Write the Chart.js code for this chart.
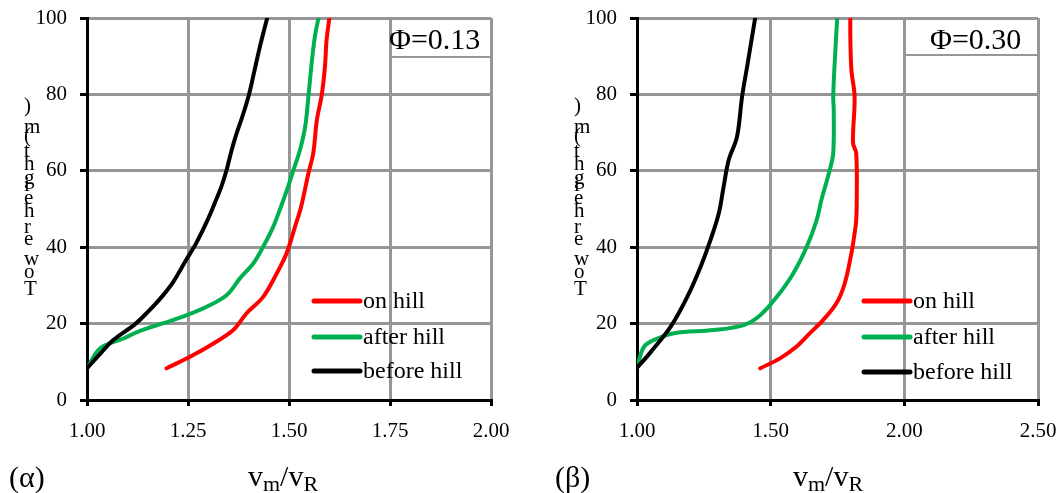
<!DOCTYPE html>
<html>
<head>
<meta charset="utf-8">
<script src="https://cdn.jsdelivr.net/npm/chart.js@4.4.0/dist/chart.umd.min.js"></script>
<style>
  html, body { margin:0; padding:0; background:#fff; }
  body { width:1060px; height:493px; position:relative; overflow:hidden; }
  .panel { position:absolute; top:0; height:493px; }
  #p1 { left:0;     width:530px; }
  #p2 { left:550px; width:510px; }
</style>
</head>
<body>
<div class="panel" id="p1"><canvas id="c1"></canvas></div>
<div class="panel" id="p2"><canvas id="c2"></canvas></div>
<script>
/* ---- wind profiles: height (m) vs vm/vR ---- */

const seriesNames  = ['on hill', 'after hill', 'before hill'];
const seriesColors = ['#ff0000', '#00b050', '#000000'];

const yTicks  = [0, 20, 40, 60, 80, 100];
const xTicksA = [1.00, 1.25, 1.50, 1.75, 2.00];
const xTicksB = [1.00, 1.50, 2.00, 2.50];

// Φ = 0.13
const hOnA     = [8.3, 11.3, 14.8, 18.3, 22.7, 27, 33.2, 38.4, 45.4, 50.6, 59.3, 64.6, 73.3, 79.8, 87.3, 94.2, 100];
const vOnA     = [1.197, 1.255, 1.313, 1.362, 1.395, 1.436, 1.470, 1.494, 1.515, 1.530, 1.548, 1.560, 1.569, 1.581, 1.589, 1.593, 1.600];
const hAfterA  = [8.3, 13.5, 16.1, 17.9, 20.1, 22.2, 24.4, 27.5, 31.9, 35.8, 40.1, 45.4, 50.6, 55, 60.2, 65.4, 71.5, 79.4, 88.1, 95.1, 100];
const vAfterA  = [1.000, 1.032, 1.090, 1.127, 1.189, 1.247, 1.296, 1.346, 1.379, 1.412, 1.436, 1.461, 1.480, 1.495, 1.511, 1.527, 1.540, 1.548, 1.556, 1.564, 1.573];
const hBeforeA = [8.3, 12, 15.7, 19.6, 23, 27, 31, 36.6, 41, 47, 52, 56, 60, 65, 69, 75, 80, 85.5, 92.5, 100];
const vBeforeA = [1.000, 1.032, 1.065, 1.116, 1.150, 1.185, 1.214, 1.245, 1.270, 1.298, 1.318, 1.333, 1.345, 1.357, 1.368, 1.387, 1.401, 1.413, 1.428, 1.446];

// Φ = 0.30
const hOnB     = [8.3, 10.9, 14, 17.5, 20.9, 25.3, 30.5, 38.4, 43.6, 47.1, 52.4, 64.6, 67.3, 79.4, 86.4, 95.1, 100];
const vOnB     = [1.461, 1.535, 1.597, 1.647, 1.696, 1.746, 1.777, 1.802, 1.814, 1.820, 1.822, 1.820, 1.808, 1.814, 1.802, 1.798, 1.798];
const hAfterB  = [8.4, 14, 16.1, 17.5, 18.3, 19.6, 22.2, 27, 33.2, 40.1, 47.1, 52.4, 60.2, 64.6, 75.9, 79.4, 88.9, 100];
const vAfterB  = [1.000, 1.027, 1.077, 1.139, 1.287, 1.399, 1.461, 1.523, 1.585, 1.635, 1.672, 1.690, 1.721, 1.734, 1.736, 1.734, 1.740, 1.749];
const hBeforeB = [8.4, 12.6, 19.2, 27, 34.9, 41.9, 48.9, 55, 62.8, 68.9, 79.4, 87.3, 100];
const vBeforeB = [1.000, 1.052, 1.126, 1.188, 1.238, 1.275, 1.306, 1.322, 1.343, 1.374, 1.393, 1.412, 1.442];

const serif = '"Liberation Serif", "Times New Roman", serif';

function profile(h, v) { return h.map((y, i) => ({ x: v[i], y })); }

// text, legend and axis titles drawn straight onto the canvas
const panelText = {
  id: 'panelText',
  afterDraw(chart, args, o) {
    const { ctx, chartArea: a, scales: { x } } = chart;
    ctx.save();

    // Φ box
    const bx = x.getPixelForValue(o.boxFrom);
    ctx.strokeStyle = '#969696'; ctx.lineWidth = 2;
    ctx.beginPath(); ctx.moveTo(bx, a.top + o.boxH); ctx.lineTo(a.right, a.top + o.boxH); ctx.stroke();
    ctx.fillStyle = '#000';
    ctx.font = `30px ${serif}`;
    ctx.textAlign = 'left'; ctx.textBaseline = 'alphabetic';
    ctx.fillText(o.phi, a.left + o.phiDx, 49);

    // legend
    ctx.font = `24px ${serif}`;
    ctx.textBaseline = 'middle';
    ctx.lineCap = 'round'; ctx.lineWidth = 5;
    seriesNames.forEach((name, i) => {
      const lx = a.left + 227, ly = o.legendY[i];
      ctx.strokeStyle = seriesColors[i];
      ctx.beginPath(); ctx.moveTo(lx, ly); ctx.lineTo(lx + 46, ly); ctx.stroke();
      ctx.fillText(name, lx + 49, ly + 1);
    });

    // stacked y title
    ctx.font = `21px ${serif}`;
    ctx.textBaseline = 'alphabetic';
    const chars = [...'Tower height (m)'];
    let pos = 0;
    const starts = chars.map(c => { const s = pos; pos += ctx.measureText(c).width; return s; });
    const span = starts[starts.length - 1];
    chars.forEach((c, i) => {
      if (c === ' ') return;
      ctx.fillText(c, 24, 295 - (starts[i] / span) * (295 - 112));
    });

    // x title v_m/v_R
    const parts = [['v', 0], ['m', 1], ['/v', 0], ['R', 1]];
    const fontOf = sub => sub ? `22px ${serif}` : `30px ${serif}`;
    let w = 0;
    parts.forEach(([t, sub]) => { ctx.font = fontOf(sub); w += ctx.measureText(t).width; });
    let tx = o.titleX - w / 2;
    parts.forEach(([t, sub]) => {
      ctx.font = fontOf(sub);
      ctx.fillText(t, tx, sub ? 491 : 486);
      tx += ctx.measureText(t).width;
    });

    // panel tag
    ctx.font = `30px ${serif}`;
    ctx.fillText(o.tag, o.tagX, 487);
    ctx.restore();
  }
};

function makePanel(id, p) {
  const gridStyle = { color:'#969696', lineWidth:3, tickColor:'#000', tickWidth:3 };
  return new Chart(document.getElementById(id), {
    type: 'line',
    data: {
      datasets: p.sets.map((s, i) => ({
        label: seriesNames[i], data: s, order: [1, 2, 0][i],
        borderColor: seriesColors[i], borderWidth: 4, pointRadius: 0,
        borderCapStyle: 'round', borderJoinStyle: 'round', tension: 0.35, fill: false
      }))
    },
    options: {
      responsive: true, maintainAspectRatio: false, animation: false,
      layout: { padding: { top: 18, right: p.padRight, bottom: 0, left: 0 } },
      plugins: { legend: { display: false }, tooltip: { enabled: false }, panelText: p.text },
      scales: {
        x: {
          type: 'linear', min: p.xTicks[0], max: p.xTicks[p.xTicks.length - 1],
          afterBuildTicks: s => { s.ticks = p.xTicks.map(v => ({ value: v })); },
          afterFit: s => { s.height = 93; s.paddingLeft = 0; s.paddingRight = 0; },
          grid: { ...gridStyle, tickLength: 6 },
          border: { color: '#000', width: 3 },
          ticks: { color: '#000', font: { family: serif, size: 21 }, padding: 13, maxRotation: 0, autoSkip: false,
                   callback: v => Number(v).toFixed(2) }
        },
        y: {
          type: 'linear', min: 0, max: 100,
          afterBuildTicks: s => { s.ticks = yTicks.map(v => ({ value: v })); },
          afterFit: s => { s.width = 87; s.paddingTop = 0; s.paddingBottom = 0; },
          grid: { ...gridStyle, tickLength: 7 },
          border: { color: '#000', width: 3 },
          ticks: { color: '#000', font: { family: serif, size: 21 }, padding: 13, autoSkip: false }
        }
      }
    },
    plugins: [panelText]
  });
}

makePanel('c1', {
  sets: [profile(hOnA, vOnA), profile(hAfterA, vAfterA), profile(hBeforeA, vBeforeA)],
  xTicks: xTicksA, padRight: 39,
  text: { phi: 'Φ=0.13', phiDx: 302, boxFrom: 1.75, boxH: 39, legendY: [301, 337, 371], titleX: 283, tag: '(α)', tagX: 9 }
});

makePanel('c2', {
  sets: [profile(hOnB, vOnB), profile(hAfterB, vAfterB), profile(hBeforeB, vBeforeB)],
  xTicks: xTicksB, padRight: 22,
  text: { phi: 'Φ=0.30', phiDx: 293, boxFrom: 2.00, boxH: 37, legendY: [301, 337, 372], titleX: 278, tag: '(β)', tagX: 5 }
});
</script>
</body>
</html>
